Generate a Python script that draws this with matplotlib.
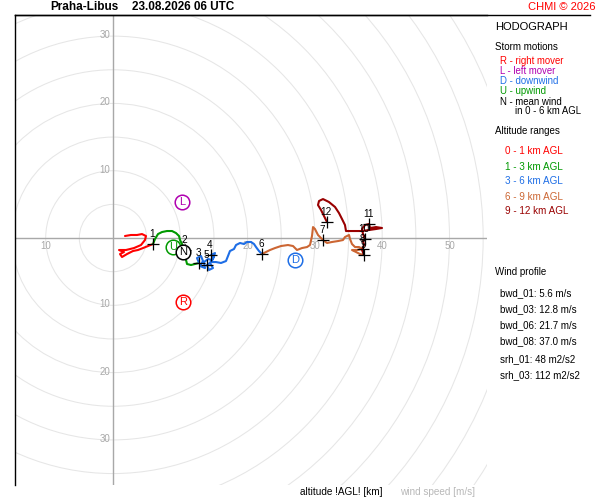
import matplotlib
matplotlib.use("Agg")
import matplotlib.pyplot as plt
from matplotlib.lines import Line2D

plt.rcParams['font.family'] = ['Liberation Sans', 'DejaVu Sans']

# ---------------- data (u, v in m/s) ----------------
seg_0_1_u = [1.78, 2.67, 3.57, 4.31, 4.90, 4.75, 4.16, 3.12, 1.93, 0.89, 1.63, 1.04, 1.34, 2.08, 2.97, 3.71, 4.46, 5.20, 5.94]
seg_0_1_v = [0.30, 0.45, 0.45, 0.59, 0.30, -0.30, -1.04, -1.49, -1.78, -1.78, -2.08, -2.38, -2.82, -2.38, -1.93, -1.78, -1.49, -1.19, -0.89]

seg_1_3_u = [5.94, 6.24, 6.69, 7.28, 8.02, 8.77, 9.36, 9.81, 9.96, 10.25, 10.70, 10.70, 10.85, 11.00, 11.59, 12.18, 12.78]
seg_1_3_v = [-0.89, -0.15, 0.59, 0.89, 1.04, 1.04, 0.74, 0.30, -0.30, -0.89, -1.78, -2.53, -3.27, -3.86, -4.01, -3.86, -3.71]

seg_3_6_u = [12.78, 12.48, 13.08, 13.37, 12.93, 13.67, 13.52, 14.12, 14.71, 15.01, 14.56, 15.16, 14.86, 14.41, 14.86, 14.26, 13.97,
             14.56, 15.30, 16.05, 16.79, 17.09, 17.38, 17.98, 18.28, 18.87, 19.47, 19.91, 20.51, 20.95, 21.25, 21.69, 22.14]
seg_3_6_v = [-3.71, -2.97, -2.67, -3.42, -4.16, -4.46, -3.57, -3.12, -3.27, -2.67, -2.53, -2.23, -3.12, -3.71, -4.46, -4.75, -4.01,
             -3.57, -3.57, -3.71, -3.42, -2.67, -1.93, -1.63, -1.04, -0.74, -0.89, -0.59, -0.59, -0.89, -1.34, -1.93, -2.38]

seg_6_9_u = [22.14, 22.73, 23.33, 24.07, 24.96, 26.00, 26.75, 27.34, 28.08, 28.83, 29.27, 29.57, 29.72, 30.01, 30.46, 31.20,
             31.80, 32.54, 33.43, 34.17, 34.47, 35.07, 35.22, 35.51, 35.96, 36.55, 37.15, 36.26, 35.51, 36.11, 36.70, 37.30]
seg_6_9_v = [-2.38, -2.08, -1.78, -1.49, -1.19, -1.04, -1.19, -1.78, -1.49, -1.34, -1.04, 0.30, 1.63, 1.34, 0.45, -0.30,
             -0.74, -0.59, -0.45, -0.30, 0.15, 0.45, -0.15, -0.89, -1.34, -1.34, -1.63, -1.78, -1.78, -2.08, -2.38, -2.53]

seg_9_12_u = [37.30, 37.00, 37.30, 37.15, 37.44, 37.15, 37.00, 37.44, 38.04, 38.19, 39.08, 39.97, 39.08, 38.04, 37.00, 35.81,
              34.62, 34.47, 34.03, 33.58, 32.99, 32.09, 31.20, 30.61, 30.46, 30.91, 31.35, 31.65, 31.80]
seg_9_12_v = [-2.53, -1.78, -1.04, -0.45, -0.15, 0.59, 1.34, 1.93, 2.08, 1.49, 1.63, 1.49, 1.34, 1.19, 1.04, 1.04,
              1.04, 1.93, 2.82, 3.71, 4.61, 5.35, 5.79, 5.50, 4.90, 4.16, 3.27, 2.67, 2.38]

km_labels = ["1", "2", "3", "4", "5", "6", "7", "8", "9", "10", "11", "12"]
km_u = [5.94, 10.70, 12.78, 14.56, 13.97, 22.14, 31.20, 37.15, 37.30, 37.44, 38.04, 31.80]
km_v = [-0.89, -1.78, -3.71, -2.53, -4.01, -2.38, -0.30, -1.63, -2.53, -0.15, 2.08, 2.38]

storm_letters = ["R", "L", "U", "N", "D"]
storm_u = [10.40, 10.25, 8.92, 10.40, 27.04]
storm_v = [-9.51, 5.35, -1.34, -2.08, -3.27]
storm_colors = ["#ff0000", "#b000b0", "#009900", "#000000", "#1e6ee6"]

seg_colors = ["#ff0000", "#009900", "#1e6ee6", "#cc6633", "#990000"]
seg_names = ["0 - 1 km AGL", "1 - 3 km AGL", "3 - 6 km AGL", "6 - 9 km AGL", "9 - 12 km AGL"]

ring_radii = list(range(5, 85, 5))
hlabels = [-10, 10, 20, 30, 40, 50]
vlabels = [30, 20, 10, -10, -20, -30]

wind_profile = ["bwd_01: 5.6 m/s", "bwd_03: 12.8 m/s", "bwd_06: 21.7 m/s", "bwd_08: 37.0 m/s",
                "srh_01: 48 m2/s2", "srh_03: 112 m2/s2"]

# ---------------- figure ----------------
W, H = 600, 500
fig = plt.figure(figsize=(6, 5), dpi=100)
fig.patch.set_facecolor("white")

ax = fig.add_axes([15 / W, 15 / H, 472 / W, 470 / H])
ax.set_xlim(-14.56, 55.57)
ax.set_ylim(-36.7, 33.14)
ax.set_xticks([])
ax.set_yticks([])
for s in ["right", "bottom"]:
    ax.spines[s].set_visible(False)
for s in ["top", "left"]:
    ax.spines[s].set_color("black")
    ax.spines[s].set_linewidth(1.0)

grid_col = "#e6e6e6"
for r in ring_radii:
    ax.add_patch(plt.Circle((0, 0), r, fill=False, ec=grid_col, lw=0.75, zorder=1))
ax.axhline(0, color="#a8a8a8", lw=1.0, zorder=2)
ax.axvline(0, color="#a8a8a8", lw=1.0, zorder=2)

lab_col = "#a8a8a8"
for r in hlabels:
    ax.annotate(str(abs(r)), (r, 0), xytext=(0, -8), textcoords="offset pixels",
                ha="center", va="center", fontsize=7, color=lab_col, zorder=2)
for r in vlabels:
    ax.annotate(str(abs(r)), (0, r), xytext=(-3, 1), textcoords="offset pixels",
                ha="right", va="center", fontsize=7, color=lab_col, zorder=2)

segs = [(seg_0_1_u, seg_0_1_v), (seg_1_3_u, seg_1_3_v), (seg_3_6_u, seg_3_6_v),
        (seg_6_9_u, seg_6_9_v), (seg_9_12_u, seg_9_12_v)]
for (u, v), c in zip(segs, seg_colors):
    ax.plot(u, v, color=c, lw=1.5, zorder=3, solid_joinstyle="round", solid_capstyle="round")

ax.plot(km_u, km_v, ls="none", marker="+", ms=9, mew=0.9, color="black", zorder=4)
for lab, u, v in zip(km_labels, km_u, km_v):
    ax.annotate(lab, (u, v), xytext=(-1, 10), textcoords="offset pixels",
                ha="center", va="center", fontsize=7.2, color="black", zorder=4)

for lt, u, v, c in zip(storm_letters, storm_u, storm_v, storm_colors):
    ax.plot([u], [v], marker="o", ms=10.5, mfc="white", mec=c, mew=1.1, zorder=5)
    ax.text(u, v, lt, ha="center", va="center", fontsize=8, color=c, zorder=6)

# top rule across figure
fig.add_artist(Line2D([15 / W, 590 / W], [1 - 15 / H, 1 - 15 / H], color="black", lw=1.0))

def ftext(x, y, s, **kw):
    fig.text(x / W, 1 - y / H, s, va="center", **kw)

ftext(50, 7, "Praha-Libus", fontsize=8.5, fontweight="bold")
ftext(132, 7, "23.08.2026 06 UTC", fontsize=8.5, fontweight="bold")
ftext(596, 7, "CHMI \u00a9 2026", fontsize=8, color="#ff0000", ha="right")

ftext(495, 27, "HODOGRAPH", fontsize=8)
ftext(495, 47, "Storm motions", fontsize=7)
sm_texts = ["R - right mover", "L - left mover", "D - downwind", "U - upwind", "N - mean wind"]
sm_cols = ["#ff0000", "#b000b0", "#1e6ee6", "#009900", "#000000"]
for i, (t, c) in enumerate(zip(sm_texts, sm_cols)):
    ftext(500, 61.5 + 10 * i, t, fontsize=6.9, color=c)
ftext(515, 111.5, "in 0 - 6 km AGL", fontsize=6.9)

ftext(495, 131.5, "Altitude ranges", fontsize=7)
for i, (t, c) in enumerate(zip(seg_names, seg_colors)):
    ftext(505, 151.5 + 15 * i, t, fontsize=7.1, color=c)

ftext(495, 272, "Wind profile", fontsize=7)
wp_y = [293, 309, 325, 341, 359, 375]
for t, y in zip(wind_profile, wp_y):
    ftext(500, y, t, fontsize=7)

ftext(300, 492, "altitude !AGL! [km]", fontsize=7.2)
ftext(400, 492, "wind speed [m/s]", fontsize=7.2, color="#b8b8b8")

fig.savefig("out.png", dpi=100, facecolor="white")
